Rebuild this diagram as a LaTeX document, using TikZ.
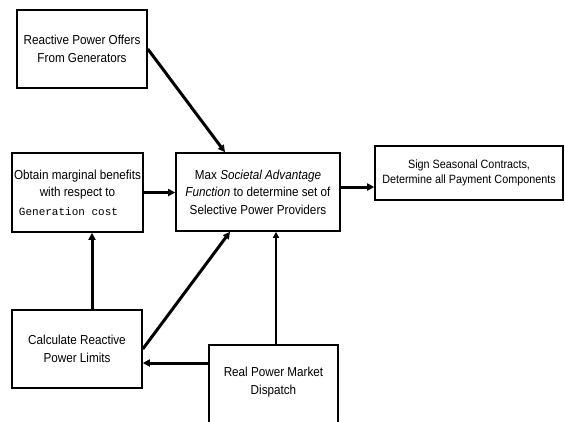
\documentclass[tikz,border=0pt]{standalone}
\usepackage{fontspec}
\setmainfont{Liberation Sans}[FakeStretch=0.9]
\newfontfamily\gencostfont{Liberation Mono}
\usetikzlibrary{arrows.meta,calc}
\tikzset{
  box/.style={draw, line width=1.6pt, inner sep=0pt, align=center,
    font=\fontsize{13}{17.5}\selectfont},
  thickarrow/.style={line width=3pt, -{Triangle[length=7pt,width=7pt]}},
  thinarrow/.style={line width=2pt, -{Triangle[length=6pt,width=6pt]}},
}
\begin{document}
\begin{tikzpicture}[x=1pt,y=-1pt]
\useasboundingbox (0,0) rectangle (565,421);
\clip (0,0) rectangle (565,421);
\node[box, minimum width=130pt, minimum height=78pt] (offers) at (82,49)
  {Reactive Power Offers\\From Generators};
\node[box, minimum width=131pt, minimum height=79pt] (obtain) at (77.5,192.5)
  {Obtain marginal benefits\\with respect to\\[1pt]\hspace*{-18pt}{\gencostfont\fontsize{11}{17.5}\selectfont Generation cost}};
\node[box, minimum width=164pt, minimum height=78pt] (max) at (258,192)
  {Max \textit{Societal Advantage}\\\textit{Function} to determine set of\\Selective Power Providers};
\node[box, minimum width=188pt, minimum height=54pt, font=\fontsize{12}{15.5}\selectfont] (sign) at (469,173)
  {Sign Seasonal Contracts,\\Determine all Payment Components};
\node[box, minimum width=130pt, minimum height=78pt] (calc) at (77,349)
  {Calculate Reactive\\Power Limits};
\node[box, minimum width=129pt, minimum height=90pt, anchor=north] (rpd) at (273.5,344) {};
\node[align=center, inner sep=0pt, font=\fontsize{13}{17.5}\selectfont] (rpdtext) at (273.5,382)
  {Real Power Market\\Dispatch};

\draw[thickarrow] (offers.east) -- ($(max.north)+(-33,0)$);
\draw[thickarrow] (obtain.east) -- (obtain.east -| max.west);
\draw[thickarrow] ($(max.east)+(0,-5)$) coordinate (mx) -- (mx -| sign.west);
\draw[thickarrow] ($(calc.north)+(15,0)$) coordinate (cn) -- (cn |- obtain.south);
\draw[thickarrow] (calc.east) -- ($(max.south)+(-28,0)$);
\draw[thickarrow] ($(rpd.north west)+(0,19)$) coordinate (rw) -- (rw -| calc.east);
\draw[thinarrow] ($(rpd.north)+(2.5,0)$) coordinate (rn) -- (rn |- max.south);
\end{tikzpicture}
\end{document}
